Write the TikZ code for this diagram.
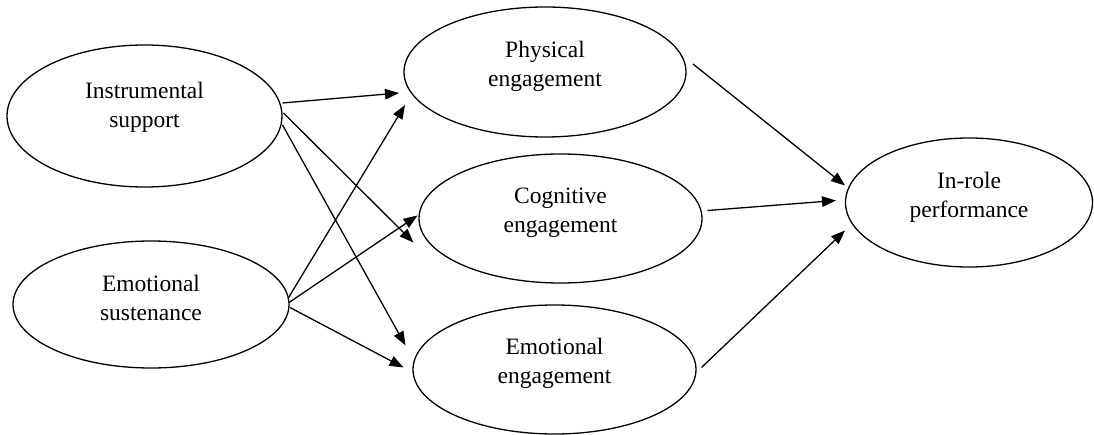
\documentclass[tikz,border=0pt]{standalone}
\usepackage{fontspec}
\setmainfont{Liberation Serif}
\usetikzlibrary{shapes.geometric,arrows.meta}
\tikzset{
  oval/.style={draw, ellipse, line width=1.3pt, inner sep=0pt},
  lbl/.style={align=center, font=\fontsize{23.5pt}{29pt}\selectfont},
  conn/.style={line width=1.3pt, -{Triangle[length=14pt,width=10.5pt]}}
}
\begin{document}
\begin{tikzpicture}[x=1pt,y=-1pt]
\useasboundingbox (0,0) rectangle (1094,435);
\node[oval, minimum width=275pt, minimum height=142pt,
  label={[lbl,yshift=9pt]center:Instrumental\\support}] (is) at (144.5,116) {};
\node[oval, minimum width=276pt, minimum height=127pt,
  label={[lbl,yshift=7pt]center:Emotional\\sustenance}] (es) at (151,304.5) {};
\node[oval, minimum width=282pt, minimum height=130pt,
  label={[lbl,yshift=6pt]center:Physical\\engagement}] (pe) at (545,72) {};
\node[oval, minimum width=283pt, minimum height=129pt,
  label={[lbl,yshift=6pt]center:Cognitive\\engagement}] (ce) at (560.5,218.5) {};
\node[oval, minimum width=283pt, minimum height=129pt,
  label={[lbl,yshift=6pt]center:Emotional\\engagement}] (ee) at (554.5,369.5) {};
\node[oval, minimum width=247pt, minimum height=129pt,
  label={[lbl,yshift=5pt]center:In-role\\performance}] (ir) at (969,202.5) {};

\draw[conn] ([shift={(138,-13)}]is.center) -- ([shift={(-146,21)}]pe.center);
\draw[conn] ([shift={(139,-3)}]is.center) -- ([shift={(-147,24)}]ce.center);
\draw[conn] ([shift={(138,9)}]is.center) -- ([shift={(-149,-24)}]ee.center);
\draw[conn] ([shift={(137,-6)}]es.center) -- ([shift={(-140,33)}]pe.center);
\draw[conn] ([shift={(138,-2)}]es.center) -- ([shift={(-143,-3)}]ce.center);
\draw[conn] ([shift={(139,3)}]es.center) -- ([shift={(-151,-2)}]ee.center);
\draw[conn] ([shift={(148,-8)}]pe.center) -- ([shift={(-124,-17)}]ir.center);
\draw[conn] ([shift={(147,-8)}]ce.center) -- ([shift={(-133,-2)}]ir.center);
\draw[conn] ([shift={(147,-2)}]ee.center) -- ([shift={(-124,28)}]ir.center);
\end{tikzpicture}
\end{document}
